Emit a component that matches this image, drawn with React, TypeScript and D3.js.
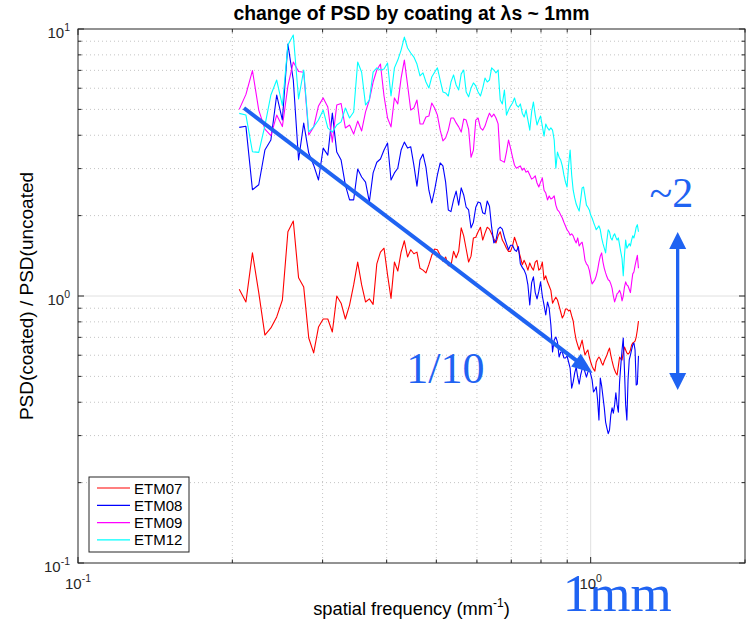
import React from 'react';
import * as d3 from 'd3';

// ---- data ----
const SERIES_NAMES = ['ETM07', 'ETM08', 'ETM09', 'ETM12'];
const SERIES_COLORS = ['#ff0000', '#0000ff', '#ff00ff', '#00ffff'];
const F_START = 0.2063; // mm^-1, first sampled spatial frequency
const F_STEP = 0.0063;  // mm^-1, sampling step

const ETM07 = [
  1.06, 0.95, 1.45, 1.03, 0.714, 0.759, 0.835, 0.966, 1.74, 1.91,
  1.17, 1.08, 0.696, 0.612, 0.765, 0.82, 0.82, 0.733, 1.0, 0.94,
  0.82, 0.925, 1.10, 1.34, 1.10, 0.95, 0.975, 0.93, 1.32, 1.46,
  1.51, 1.20, 0.98, 1.34, 1.24, 1.46, 1.61, 1.40, 1.49, 1.44,
  1.46, 1.27, 1.25, 1.22, 1.31, 1.42, 1.50, 1.49, 1.42, 1.35,
  1.40, 1.30, 1.30, 1.47, 1.39, 1.47, 1.80, 1.68, 1.50, 1.34,
  1.41, 1.65, 1.66, 1.74, 1.81, 1.62, 1.72, 1.81, 1.78, 1.71,
  1.64, 1.58, 1.68, 1.74, 1.62, 1.57, 1.51, 1.47, 1.47, 1.54,
  1.66, 1.58, 1.49, 1.40, 1.31, 1.36, 1.31, 1.25, 1.33, 1.28,
  1.25, 1.34, 1.36, 1.25, 1.27, 1.34, 1.15, 1.19, 1.13, 1.09,
  1.05, 0.94, 0.966, 0.99, 0.966, 0.918, 0.871, 0.827, 0.849, 0.894,
  0.894, 0.879, 0.886, 0.842, 0.806, 0.733, 0.684, 0.655, 0.628, 0.655,
  0.684, 0.638, 0.601, 0.617, 0.628, 0.591, 0.566, 0.546, 0.532, 0.523,
  0.566, 0.581, 0.591, 0.581, 0.561, 0.551, 0.571, 0.586, 0.601, 0.622,
  0.638, 0.601, 0.571, 0.546, 0.528, 0.515, 0.506, 0.546, 0.591, 0.581,
  0.576, 0.612, 0.644, 0.628, 0.612, 0.606, 0.612, 0.628, 0.655, 0.667,
  0.672, 0.678, 0.702, 0.746, 0.806,
];

const ETM08 = [
  4.28, 4.32, 2.50, 2.61, 3.52, 3.84, 5.66, 4.56, 8.78, 6.44,
  3.23, 4.44, 3.43, 3.09, 2.72, 3.58, 3.37, 4.84, 3.46, 3.23,
  2.60, 2.29, 2.29, 2.99, 2.79, 2.67, 2.25, 2.89, 3.17, 3.26,
  3.52, 3.74, 2.72, 2.89, 3.01, 3.52, 3.77, 3.58, 3.62, 3.09,
  2.58, 3.23, 3.40, 3.04, 2.49, 2.23, 2.49, 2.84, 3.15, 3.07,
  2.67, 2.10, 2.07, 2.29, 2.47, 2.19, 2.54, 2.39, 2.15, 2.10,
  1.80, 1.89, 2.15, 2.25, 2.23, 2.05, 2.03, 2.27, 2.17, 1.81,
  1.58, 1.62, 1.78, 1.81, 1.78, 1.66, 1.57, 1.49, 1.55, 1.55,
  1.49, 1.47, 1.53, 1.32, 1.28, 1.25, 1.20, 1.10, 0.925, 1.12,
  1.18, 1.03, 0.975, 1.04, 1.13, 1.0, 0.925, 0.849, 0.95, 0.90,
  0.779, 0.617, 0.684, 0.702, 0.672, 0.591, 0.617, 0.617, 0.586, 0.586,
  0.596, 0.566, 0.537, 0.452, 0.477, 0.515, 0.542, 0.497, 0.468, 0.506,
  0.532, 0.537, 0.519, 0.497, 0.519, 0.528, 0.510, 0.485, 0.437, 0.445,
  0.457, 0.408, 0.343, 0.493, 0.461, 0.419, 0.381, 0.337, 0.320, 0.305,
  0.315, 0.358, 0.381, 0.364, 0.391, 0.434, 0.391, 0.367, 0.477, 0.551,
  0.628, 0.696, 0.528, 0.391, 0.343, 0.485, 0.576, 0.601, 0.628, 0.655,
  0.667, 0.628, 0.464, 0.468, 0.596,
];

const ETM09 = [
  5.00, 5.69, 6.99, 4.97, 4.22, 3.99, 4.76, 4.31, 6.12, 7.52,
  6.93, 6.89, 4.01, 4.30, 5.15, 5.52, 5.10, 3.77, 5.19, 5.26,
  4.26, 4.37, 4.04, 4.52, 4.15, 4.89, 5.42, 6.33, 7.02, 7.39,
  5.61, 4.64, 4.30, 5.52, 5.24, 6.55, 7.65, 6.17, 4.97, 5.06,
  5.42, 4.41, 4.41, 4.68, 4.72, 5.28, 5.06, 4.76, 4.18, 3.81,
  3.91, 4.18, 4.64, 4.64, 4.45, 4.30, 4.11, 4.60, 4.56, 4.22,
  3.31, 3.52, 4.56, 4.64, 4.26, 4.18, 4.33, 4.60, 4.84, 4.68,
  4.80, 4.64, 4.41, 3.23, 3.20, 3.17, 3.46, 3.84, 3.58, 3.31,
  3.09, 3.01, 3.04, 3.07, 2.96, 3.01, 2.91, 2.94, 2.84, 2.74,
  2.77, 2.82, 2.65, 2.56, 2.67, 2.77, 2.49, 2.43, 2.29, 2.37,
  2.31, 2.33, 2.37, 2.19, 2.10, 2.07, 2.01, 1.96, 1.89, 1.83,
  1.77, 1.74, 1.69, 1.71, 1.68, 1.62, 1.58, 1.65, 1.54, 1.57,
  1.59, 1.49, 1.36, 1.32, 1.30, 1.25, 1.17, 1.11, 1.13, 1.15,
  1.19, 1.25, 1.34, 1.41, 1.45, 1.34, 1.27, 1.22, 1.18, 1.15,
  1.14, 1.11, 1.07, 1.00, 0.95, 0.983, 1.02, 1.03, 1.05, 1.02,
  0.958, 1.00, 1.08, 1.13, 1.10, 1.09, 1.06, 1.03, 1.12, 1.21,
  1.23, 1.30, 1.36, 1.42, 1.27,
];

const ETM12 = [
  4.83, 4.76, 3.47, 3.45, 4.35, 5.66, 6.44, 5.17, 8.71, 9.49,
  5.47, 7.02, 4.12, 4.30, 4.56, 4.97, 4.26, 4.11, 4.37, 4.49,
  5.06, 4.64, 4.89, 7.52, 6.89, 5.19, 5.42, 6.89, 7.15, 7.02,
  7.08, 7.46, 5.61, 7.15, 7.65, 8.34, 9.33, 8.49, 8.13, 7.85,
  7.39, 6.67, 6.85, 6.33, 6.01, 6.61, 6.89, 7.15, 6.44, 5.81,
  5.76, 5.61, 6.33, 6.73, 6.17, 5.91, 6.79, 7.02, 5.81, 5.57,
  6.01, 6.28, 6.12, 5.81, 5.61, 6.01, 6.55, 6.33, 6.44, 7.15,
  7.02, 6.85, 7.02, 5.42, 5.24, 5.91, 4.76, 4.97, 5.15, 5.28,
  5.52, 5.19, 5.10, 5.24, 4.84, 4.68, 4.97, 4.56, 4.18, 4.89,
  5.33, 4.76, 4.37, 4.56, 4.72, 4.33, 3.97, 4.41, 4.26, 4.18,
  4.26, 4.18, 3.84, 3.01, 3.46, 3.31, 3.23, 3.07, 2.84, 2.67,
  2.56, 3.09, 3.52, 2.84, 2.49, 2.33, 2.21, 2.14, 2.08, 2.29,
  2.54, 2.56, 2.37, 2.19, 2.15, 2.10, 2.01, 1.96, 1.89, 1.83,
  1.77, 1.80, 1.83, 1.77, 1.65, 1.57, 1.51, 1.45, 1.62, 1.77,
  1.74, 1.65, 1.62, 1.68, 1.71, 1.66, 1.62, 1.65, 1.55, 1.46,
  1.38, 1.19, 1.42, 1.62, 1.51, 1.54, 1.57, 1.54, 1.62, 1.68,
  1.65, 1.72, 1.81, 1.85, 1.74,
];

const SERIES = [ETM07, ETM08, ETM09, ETM12];

const X_MAJOR = [0.1, 1];
const X_MAJOR_EXP = ['-1', '0'];
const X_MINOR = [0.2, 0.3, 0.4, 0.5, 0.6, 0.7, 0.8, 0.9, 2];
const Y_MAJOR = [0.1, 1, 10];
const Y_MAJOR_EXP = ['-1', '0', '1'];
const Y_MINOR = [0.2, 0.3, 0.4, 0.5, 0.6, 0.7, 0.8, 0.9, 2, 3, 4, 5, 6, 7, 8, 9];

// annotations (data coordinates)
const TREND_START = [0.2107, 5.06];
const TREND_END = [1.009, 0.515];
const RANGE_FREQ = 1.478;
const RANGE_TOP = 1.737;
const RANGE_BOTTOM = 0.445;
const NOTE_SLOPE = { text: '1/10', f: 0.437, v: 0.472 };
const NOTE_RANGE = { text: '~2', f: 1.303, v: 2.154 };
const NOTE_MM = { text: '1mm', f: 0.882, v: 0.066 };

const W = 750;
const H = 621;
const M = { left: 78, right: 745, top: 29, bottom: 563 };
const AXIS = '#262626';
const ANNO = '#1f63f2';
const SANS = '"Liberation Sans", Arial, Helvetica, sans-serif';
const SERIF = '"Liberation Serif", "Times New Roman", serif';

export default function App() {
  const x = d3.scaleLog().domain([0.1, 2]).range([M.left, M.right]);
  const y = d3.scaleLog().domain([0.1, 10]).range([M.bottom, M.top]);
  const freqs = d3.range(ETM07.length).map((i) => F_START + i * F_STEP);

  const line = d3
    .line<number>()
    .x((_, i) => x(freqs[i]))
    .y((d) => y(d));

  // trend arrow geometry
  const sx = x(TREND_START[0]);
  const sy = y(TREND_START[1]);
  const ex = x(TREND_END[0]);
  const ey = y(TREND_END[1]);
  const ang = Math.atan2(ey - sy, ex - sx);
  const headL = 21;
  const headW = 8;
  const bx = ex - headL * Math.cos(ang);
  const by = ey - headL * Math.sin(ang);
  const nx = -Math.sin(ang);
  const ny = Math.cos(ang);
  const trendHead = `${ex},${ey} ${bx + nx * headW},${by + ny * headW} ${bx - nx * headW},${by - ny * headW}`;

  const rx = x(RANGE_FREQ);
  const rTop = y(RANGE_TOP);
  const rBot = y(RANGE_BOTTOM);
  const vHeadL = 17;
  const vHeadW = 8.5;

  return (
    <svg
      width={W}
      height={H}
      style={{ position: 'absolute', left: 0, top: 0, background: '#fff' }}
      fontFamily={SANS}
    >
      <rect x={0} y={0} width={W} height={H} fill="#fff" />
      {/* grid */}
      <g>
        {X_MINOR.filter((v) => v < 2).map((v) => (
          <line key={'gx' + v} x1={x(v)} x2={x(v)} y1={M.top} y2={M.bottom}
            stroke="#c4c4c4" strokeWidth={1} strokeDasharray="1,3" />
        ))}
        {Y_MINOR.map((v) => (
          <line key={'gy' + v} x1={M.left} x2={M.right} y1={y(v)} y2={y(v)}
            stroke="#c4c4c4" strokeWidth={1} strokeDasharray="1,3" />
        ))}
        <line x1={x(1)} x2={x(1)} y1={M.top} y2={M.bottom} stroke="#e0e0e0" strokeWidth={1} />
        <line x1={M.left} x2={M.right} y1={y(1)} y2={y(1)} stroke="#e0e0e0" strokeWidth={1} />
      </g>

      {/* data */}
      <g fill="none" strokeWidth={1.1} strokeLinejoin="round">
        {SERIES.map((s, k) => (
          <path key={SERIES_NAMES[k]} d={line(s) || ''} stroke={SERIES_COLORS[k]} />
        ))}
      </g>

      {/* axes box and ticks */}
      <g stroke={AXIS} strokeWidth={1}>
        <rect x={M.left} y={M.top} width={M.right - M.left} height={M.bottom - M.top} fill="none" />
        {X_MAJOR.map((v) => (
          <g key={'xt' + v}>
            <line x1={x(v)} x2={x(v)} y1={M.bottom} y2={M.bottom - 6} />
            <line x1={x(v)} x2={x(v)} y1={M.top} y2={M.top + 6} />
          </g>
        ))}
        {X_MINOR.map((v) => (
          <g key={'xm' + v}>
            <line x1={x(v)} x2={x(v)} y1={M.bottom} y2={M.bottom - 3.5} />
            <line x1={x(v)} x2={x(v)} y1={M.top} y2={M.top + 3.5} />
          </g>
        ))}
        {Y_MAJOR.map((v) => (
          <g key={'yt' + v}>
            <line x1={M.left} x2={M.left + 6} y1={y(v)} y2={y(v)} />
            <line x1={M.right} x2={M.right - 6} y1={y(v)} y2={y(v)} />
          </g>
        ))}
        {Y_MINOR.map((v) => (
          <g key={'ym' + v}>
            <line x1={M.left} x2={M.left + 3.5} y1={y(v)} y2={y(v)} />
            <line x1={M.right} x2={M.right - 3.5} y1={y(v)} y2={y(v)} />
          </g>
        ))}
      </g>

      {/* annotations */}
      <g>
        <line x1={sx} y1={sy} x2={bx + 2 * Math.cos(ang)} y2={by + 2 * Math.sin(ang)} stroke={ANNO} strokeWidth={4} />
        <polygon points={trendHead} fill={ANNO} />
        <line x1={rx} x2={rx} y1={rTop + vHeadL - 1} y2={rBot - vHeadL + 1} stroke={ANNO} strokeWidth={3.3} />
        <polygon points={`${rx},${rTop} ${rx - vHeadW},${rTop + vHeadL} ${rx + vHeadW},${rTop + vHeadL}`} fill={ANNO} />
        <polygon points={`${rx},${rBot} ${rx - vHeadW},${rBot - vHeadL} ${rx + vHeadW},${rBot - vHeadL}`} fill={ANNO} />
        <text x={x(NOTE_SLOPE.f)} y={y(NOTE_SLOPE.v)} fontFamily={SERIF} fontSize={44} fill={ANNO}>{NOTE_SLOPE.text}</text>
        <text x={x(NOTE_RANGE.f)} y={y(NOTE_RANGE.v)} fontFamily={SERIF} fontSize={42} fill={ANNO}>{NOTE_RANGE.text}</text>
        <text x={x(NOTE_MM.f)} y={y(NOTE_MM.v)} fontFamily={SERIF} fontSize={53} fill={ANNO}>{NOTE_MM.text}</text>
      </g>

      {/* tick labels */}
      <g fill={AXIS} fontSize={15}>
        {X_MAJOR.map((v, i) => (
          <text key={'xl' + v} x={x(v)} y={M.bottom + 26} textAnchor="middle">
            10<tspan dy={-7} fontSize={10.5}>{X_MAJOR_EXP[i]}</tspan>
          </text>
        ))}
        {Y_MAJOR.map((v, i) => (
          <text key={'yl' + v} x={M.left - 8} y={y(v) + 9} textAnchor="end">
            10<tspan dy={-7} fontSize={10.5}>{Y_MAJOR_EXP[i]}</tspan>
          </text>
        ))}
      </g>

      {/* titles */}
      <text x={(M.left + M.right) / 2} y={20} textAnchor="middle" fontSize={19.4} fontWeight="bold" fill="#000">
        change of PSD by coating at λs ~ 1mm
      </text>
      <text x={(M.left + M.right) / 2} y={615} textAnchor="middle" fontSize={18.3} fill="#000">
        spatial frequency (mm<tspan dy={-8} fontSize={12}>-1</tspan><tspan dy={8}>)</tspan>
      </text>
      <text transform={`translate(33, ${(M.top + M.bottom) / 2}) rotate(-90)`} textAnchor="middle" fontSize={19} fill="#000">
        PSD(coated) / PSD(uncoated
      </text>

      {/* legend */}
      <g>
        <rect x={89} y={477} width={100} height={75} fill="#fff" stroke={AXIS} strokeWidth={1} />
        {SERIES_NAMES.map((n, k) => (
          <g key={'lg' + n}>
            <line x1={97} x2={130} y1={488 + k * 17.3} y2={488 + k * 17.3} stroke={SERIES_COLORS[k]} strokeWidth={1.2} />
            <text x={134} y={488 + k * 17.3 + 5.5} fontSize={15} fill="#000">{n}</text>
          </g>
        ))}
      </g>
    </svg>
  );
}
